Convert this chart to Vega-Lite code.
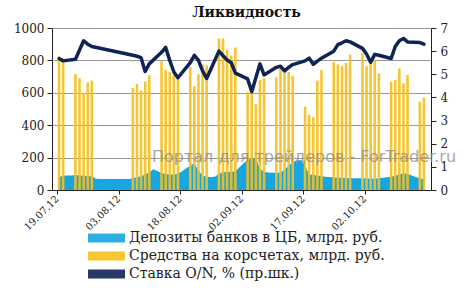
{
  "$schema": "https://vega.github.io/schema/vega-lite/v6.json",
  "width": 379,
  "height": 162,
  "autosize": {"type": "none"},
  "padding": {"left": 52, "top": 28, "right": 38, "bottom": 102},
  "background": "white",
  "title": {"text": "Ликвидность", "font": "DejaVu Serif", "fontSize": 14, "fontWeight": "bold", "color": "#111", "anchor": "middle", "offset": 2, "dx": 5},
  "config": {"view": {"stroke": null}},
  "datasets": {
    "bars": [
      {"d": "2012-07-19T12:00:00", "v": 825}, {"d": "2012-07-20T12:00:00", "v": 805},
      {"d": "2012-07-23T12:00:00", "v": 715}, {"d": "2012-07-24T12:00:00", "v": 690}, {"d": "2012-07-25T12:00:00", "v": 600}, {"d": "2012-07-26T12:00:00", "v": 665}, {"d": "2012-07-27T12:00:00", "v": 675},
      {"d": "2012-08-06T12:00:00", "v": 630}, {"d": "2012-08-07T12:00:00", "v": 655}, {"d": "2012-08-08T12:00:00", "v": 615}, {"d": "2012-08-09T12:00:00", "v": 670}, {"d": "2012-08-10T12:00:00", "v": 710},
      {"d": "2012-08-13T12:00:00", "v": 795}, {"d": "2012-08-14T12:00:00", "v": 740}, {"d": "2012-08-15T12:00:00", "v": 728}, {"d": "2012-08-16T12:00:00", "v": 710}, {"d": "2012-08-17T12:00:00", "v": 690},
      {"d": "2012-08-20T12:00:00", "v": 760}, {"d": "2012-08-21T12:00:00", "v": 640}, {"d": "2012-08-22T12:00:00", "v": 715}, {"d": "2012-08-23T12:00:00", "v": 775}, {"d": "2012-08-24T12:00:00", "v": 770},
      {"d": "2012-08-27T12:00:00", "v": 935}, {"d": "2012-08-28T12:00:00", "v": 935}, {"d": "2012-08-29T12:00:00", "v": 865}, {"d": "2012-08-30T12:00:00", "v": 830}, {"d": "2012-08-31T12:00:00", "v": 880},
      {"d": "2012-09-03T12:00:00", "v": 605}, {"d": "2012-09-04T12:00:00", "v": 600}, {"d": "2012-09-05T12:00:00", "v": 530}, {"d": "2012-09-06T12:00:00", "v": 680}, {"d": "2012-09-07T12:00:00", "v": 690},
      {"d": "2012-09-10T12:00:00", "v": 695}, {"d": "2012-09-11T12:00:00", "v": 760}, {"d": "2012-09-12T12:00:00", "v": 725}, {"d": "2012-09-13T12:00:00", "v": 730}, {"d": "2012-09-14T12:00:00", "v": 705},
      {"d": "2012-09-17T12:00:00", "v": 515}, {"d": "2012-09-18T12:00:00", "v": 465}, {"d": "2012-09-19T12:00:00", "v": 450}, {"d": "2012-09-20T12:00:00", "v": 675}, {"d": "2012-09-21T12:00:00", "v": 740},
      {"d": "2012-09-24T12:00:00", "v": 790}, {"d": "2012-09-25T12:00:00", "v": 775}, {"d": "2012-09-26T12:00:00", "v": 765}, {"d": "2012-09-27T12:00:00", "v": 785}, {"d": "2012-09-28T12:00:00", "v": 836},
      {"d": "2012-10-01T12:00:00", "v": 845}, {"d": "2012-10-02T12:00:00", "v": 765}, {"d": "2012-10-03T12:00:00", "v": 790}, {"d": "2012-10-04T12:00:00", "v": 800}, {"d": "2012-10-05T12:00:00", "v": 720},
      {"d": "2012-10-08T12:00:00", "v": 669}, {"d": "2012-10-09T12:00:00", "v": 679}, {"d": "2012-10-10T12:00:00", "v": 751}, {"d": "2012-10-11T12:00:00", "v": 659}, {"d": "2012-10-12T12:00:00", "v": 710},
      {"d": "2012-10-15T12:00:00", "v": 545}, {"d": "2012-10-16T12:00:00", "v": 570}
    ],
    "dep": [
      {"d": "2012-07-19T12:00:00", "v": 80}, {"d": "2012-07-20T12:00:00", "v": 88}, {"d": "2012-07-21T12:00:00", "v": 90}, {"d": "2012-07-22T12:00:00", "v": 90}, {"d": "2012-07-23T12:00:00", "v": 92}, {"d": "2012-07-24T12:00:00", "v": 90}, {"d": "2012-07-25T12:00:00", "v": 88}, {"d": "2012-07-26T12:00:00", "v": 87}, {"d": "2012-07-27T12:00:00", "v": 85}, {"d": "2012-07-28T12:00:00", "v": 70}, {"d": "2012-07-29T12:00:00", "v": 68}, {"d": "2012-07-30T12:00:00", "v": 68}, {"d": "2012-07-31T12:00:00", "v": 68},
      {"d": "2012-08-01T12:00:00", "v": 68}, {"d": "2012-08-02T12:00:00", "v": 68}, {"d": "2012-08-03T12:00:00", "v": 68}, {"d": "2012-08-04T12:00:00", "v": 68}, {"d": "2012-08-05T12:00:00", "v": 68}, {"d": "2012-08-06T12:00:00", "v": 72}, {"d": "2012-08-07T12:00:00", "v": 78}, {"d": "2012-08-08T12:00:00", "v": 85}, {"d": "2012-08-09T12:00:00", "v": 95}, {"d": "2012-08-10T12:00:00", "v": 110}, {"d": "2012-08-11T12:00:00", "v": 128}, {"d": "2012-08-12T12:00:00", "v": 118}, {"d": "2012-08-13T12:00:00", "v": 105}, {"d": "2012-08-14T12:00:00", "v": 98}, {"d": "2012-08-15T12:00:00", "v": 95}, {"d": "2012-08-16T12:00:00", "v": 96}, {"d": "2012-08-17T12:00:00", "v": 100}, {"d": "2012-08-18T12:00:00", "v": 115}, {"d": "2012-08-19T12:00:00", "v": 135}, {"d": "2012-08-20T12:00:00", "v": 150}, {"d": "2012-08-21T12:00:00", "v": 165}, {"d": "2012-08-22T12:00:00", "v": 120}, {"d": "2012-08-23T12:00:00", "v": 90}, {"d": "2012-08-24T12:00:00", "v": 82}, {"d": "2012-08-25T12:00:00", "v": 80}, {"d": "2012-08-26T12:00:00", "v": 82}, {"d": "2012-08-27T12:00:00", "v": 100}, {"d": "2012-08-28T12:00:00", "v": 110}, {"d": "2012-08-29T12:00:00", "v": 112}, {"d": "2012-08-30T12:00:00", "v": 112}, {"d": "2012-08-31T12:00:00", "v": 115},
      {"d": "2012-09-01T12:00:00", "v": 140}, {"d": "2012-09-02T12:00:00", "v": 165}, {"d": "2012-09-03T12:00:00", "v": 185}, {"d": "2012-09-04T12:00:00", "v": 195}, {"d": "2012-09-05T12:00:00", "v": 200}, {"d": "2012-09-06T12:00:00", "v": 130}, {"d": "2012-09-07T12:00:00", "v": 112}, {"d": "2012-09-08T12:00:00", "v": 108}, {"d": "2012-09-09T12:00:00", "v": 106}, {"d": "2012-09-10T12:00:00", "v": 106}, {"d": "2012-09-11T12:00:00", "v": 108}, {"d": "2012-09-12T12:00:00", "v": 125}, {"d": "2012-09-13T12:00:00", "v": 150}, {"d": "2012-09-14T12:00:00", "v": 172}, {"d": "2012-09-15T12:00:00", "v": 182}, {"d": "2012-09-16T12:00:00", "v": 185}, {"d": "2012-09-17T12:00:00", "v": 150}, {"d": "2012-09-18T12:00:00", "v": 95}, {"d": "2012-09-19T12:00:00", "v": 92}, {"d": "2012-09-20T12:00:00", "v": 90}, {"d": "2012-09-21T12:00:00", "v": 85}, {"d": "2012-09-22T12:00:00", "v": 82}, {"d": "2012-09-23T12:00:00", "v": 80}, {"d": "2012-09-24T12:00:00", "v": 78}, {"d": "2012-09-25T12:00:00", "v": 76}, {"d": "2012-09-26T12:00:00", "v": 75}, {"d": "2012-09-27T12:00:00", "v": 74}, {"d": "2012-09-28T12:00:00", "v": 74}, {"d": "2012-09-29T12:00:00", "v": 73}, {"d": "2012-09-30T12:00:00", "v": 72},
      {"d": "2012-10-01T12:00:00", "v": 72}, {"d": "2012-10-02T12:00:00", "v": 72}, {"d": "2012-10-03T12:00:00", "v": 70}, {"d": "2012-10-04T12:00:00", "v": 70}, {"d": "2012-10-05T12:00:00", "v": 72}, {"d": "2012-10-06T12:00:00", "v": 75}, {"d": "2012-10-07T12:00:00", "v": 78}, {"d": "2012-10-08T12:00:00", "v": 82}, {"d": "2012-10-09T12:00:00", "v": 88}, {"d": "2012-10-10T12:00:00", "v": 95}, {"d": "2012-10-11T12:00:00", "v": 103}, {"d": "2012-10-12T12:00:00", "v": 100}, {"d": "2012-10-13T12:00:00", "v": 90}, {"d": "2012-10-14T12:00:00", "v": 80}, {"d": "2012-10-15T12:00:00", "v": 72}, {"d": "2012-10-16T12:00:00", "v": 66}
    ],
    "rate": [
      {"d": "2012-07-19T12:00:00", "r": 5.68}, {"d": "2012-07-20T12:00:00", "r": 5.58},
      {"d": "2012-07-23T12:00:00", "r": 5.65}, {"d": "2012-07-24T12:00:00", "r": 6.05}, {"d": "2012-07-25T12:00:00", "r": 6.45}, {"d": "2012-07-26T12:00:00", "r": 6.3}, {"d": "2012-07-27T12:00:00", "r": 6.2},
      {"d": "2012-08-06T12:00:00", "r": 5.82}, {"d": "2012-08-07T12:00:00", "r": 5.78}, {"d": "2012-08-08T12:00:00", "r": 5.72}, {"d": "2012-08-09T12:00:00", "r": 5.12}, {"d": "2012-08-10T12:00:00", "r": 5.45},
      {"d": "2012-08-13T12:00:00", "r": 5.95}, {"d": "2012-08-14T12:00:00", "r": 6.16}, {"d": "2012-08-15T12:00:00", "r": 5.6}, {"d": "2012-08-16T12:00:00", "r": 5.1}, {"d": "2012-08-17T12:00:00", "r": 4.85},
      {"d": "2012-08-20T12:00:00", "r": 5.5}, {"d": "2012-08-21T12:00:00", "r": 5.82}, {"d": "2012-08-22T12:00:00", "r": 5.6}, {"d": "2012-08-23T12:00:00", "r": 5.15}, {"d": "2012-08-24T12:00:00", "r": 4.82},
      {"d": "2012-08-27T12:00:00", "r": 6.0}, {"d": "2012-08-28T12:00:00", "r": 5.8}, {"d": "2012-08-29T12:00:00", "r": 5.62}, {"d": "2012-08-30T12:00:00", "r": 5.5}, {"d": "2012-08-31T12:00:00", "r": 5.05},
      {"d": "2012-09-03T12:00:00", "r": 4.8}, {"d": "2012-09-04T12:00:00", "r": 4.25}, {"d": "2012-09-05T12:00:00", "r": 4.85}, {"d": "2012-09-06T12:00:00", "r": 5.45}, {"d": "2012-09-07T12:00:00", "r": 4.97},
      {"d": "2012-09-10T12:00:00", "r": 5.3}, {"d": "2012-09-11T12:00:00", "r": 5.35}, {"d": "2012-09-12T12:00:00", "r": 5.15}, {"d": "2012-09-13T12:00:00", "r": 5.3}, {"d": "2012-09-14T12:00:00", "r": 5.42},
      {"d": "2012-09-17T12:00:00", "r": 5.58}, {"d": "2012-09-18T12:00:00", "r": 5.7}, {"d": "2012-09-19T12:00:00", "r": 5.43}, {"d": "2012-09-20T12:00:00", "r": 5.57}, {"d": "2012-09-21T12:00:00", "r": 5.69},
      {"d": "2012-09-24T12:00:00", "r": 6.0}, {"d": "2012-09-25T12:00:00", "r": 6.28}, {"d": "2012-09-26T12:00:00", "r": 6.36}, {"d": "2012-09-27T12:00:00", "r": 6.45}, {"d": "2012-09-28T12:00:00", "r": 6.4},
      {"d": "2012-10-01T12:00:00", "r": 6.12}, {"d": "2012-10-02T12:00:00", "r": 5.88}, {"d": "2012-10-03T12:00:00", "r": 5.52}, {"d": "2012-10-04T12:00:00", "r": 5.86}, {"d": "2012-10-05T12:00:00", "r": 5.82},
      {"d": "2012-10-08T12:00:00", "r": 5.68}, {"d": "2012-10-09T12:00:00", "r": 6.2}, {"d": "2012-10-10T12:00:00", "r": 6.45}, {"d": "2012-10-11T12:00:00", "r": 6.55}, {"d": "2012-10-12T12:00:00", "r": 6.4},
      {"d": "2012-10-15T12:00:00", "r": 6.37}, {"d": "2012-10-16T12:00:00", "r": 6.3}
    ],
    "mark": [
      {"d": "2012-09-17T06:00:00", "v": 205, "t": "Портал для трейдеров - ForTrader.ru"}
    ]
  },
  "encoding": {
    "x": {
      "field": "d", "type": "temporal",
      "scale": {"domain": [{"year": 2012, "month": 7, "date": 19}, {"year": 2012, "month": 10, "date": 17}]},
      "axis": {
        "title": null, "grid": false, "format": "%d.%m.%y",
        "values": [{"year": 2012, "month": 7, "date": 19}, {"year": 2012, "month": 8, "date": 3}, {"year": 2012, "month": 8, "date": 18}, {"year": 2012, "month": 9, "date": 2}, {"year": 2012, "month": 9, "date": 17}, {"year": 2012, "month": 10, "date": 2}],
        "labelAngle": -45, "labelAlign": "right", "labelBaseline": "middle", "labelFont": "DejaVu Serif", "labelFontSize": 10, "labelColor": "#222", "labelPadding": 3,
        "domainColor": "#222", "tickColor": "#222", "tickSize": 4, "labelOverlap": false, "labelFlush": false
      }
    }
  },
  "layer": [
    {
      "encoding": {
        "y": {"field": "v", "type": "quantitative",
          "scale": {"domain": [0, 1000]},
          "axis": {"title": null, "format": "d", "values": [0, 200, 400, 600, 800, 1000], "labelOverlap": false, "grid": true, "gridColor": "#999", "gridWidth": 1, "domainColor": "#222", "tickColor": "#222", "tickSize": 5, "labelFont": "DejaVu Serif", "labelFontSize": 12, "labelColor": "#222", "labelPadding": 3}}
      },
      "layer": [
        {
          "data": {"name": "dep"},
          "mark": {"type": "area", "interpolate": "linear", "opacity": 1},
          "encoding": {
            "color": {"datum": "Депозиты банков в ЦБ, млрд. руб.", "type": "nominal",
              "scale": {"domain": ["Депозиты банков в ЦБ, млрд. руб.", "Средства на корсчетах, млрд. руб.", "Ставка O/N, % (пр.шк.)"], "range": ["#17A6E0", "#F6BF1C", "#0E2457"]},
              "legend": {
                "orient": "none", "legendX": 36, "legendY": 202, "direction": "vertical", "title": null,
                "labelFont": "DejaVu Serif", "labelFontSize": 14, "labelColor": "#222", "labelOffset": 4, "labelLimit": 400,
                "symbolType": "M-1,-0.24H1V0.24H-1Z", "symbolSize": 1369, "clipHeight": 16, "rowPadding": 2, "symbolStrokeWidth": 0, "symbolOpacity": 1
              }
            }
          }
        },
        {
          "data": {"name": "bars"},
          "mark": {"type": "bar", "width": 2.6, "opacity": 0.9},
          "encoding": {
            "color": {"datum": "Средства на корсчетах, млрд. руб.", "type": "nominal"}
          }
        },
        {
          "data": {"name": "mark"},
          "mark": {"type": "text", "font": "DejaVu Sans", "fontSize": 16, "fill": "#8a8a8a", "opacity": 0.75, "align": "center", "baseline": "middle"},
          "encoding": {
            "text": {"field": "t", "type": "nominal"}
          }
        }
      ]
    },
    {
      "data": {"name": "rate"},
      "mark": {"type": "line", "strokeWidth": 3.5, "strokeJoin": "round", "strokeCap": "round"},
      "encoding": {
        "y": {"field": "r", "type": "quantitative",
          "scale": {"domain": [0, 7]},
          "axis": {"title": null, "orient": "right", "values": [0, 1, 2, 3, 4, 5, 6, 7], "labelOverlap": false, "grid": false, "domainColor": "#222", "tickColor": "#222", "tickSize": 5, "labelFont": "DejaVu Serif", "labelFontSize": 12, "labelColor": "#222", "labelPadding": 4}},
        "color": {"datum": "Ставка O/N, % (пр.шк.)", "type": "nominal"}
      }
    }
  ],
  "resolve": {"scale": {"y": "independent"}}
}
